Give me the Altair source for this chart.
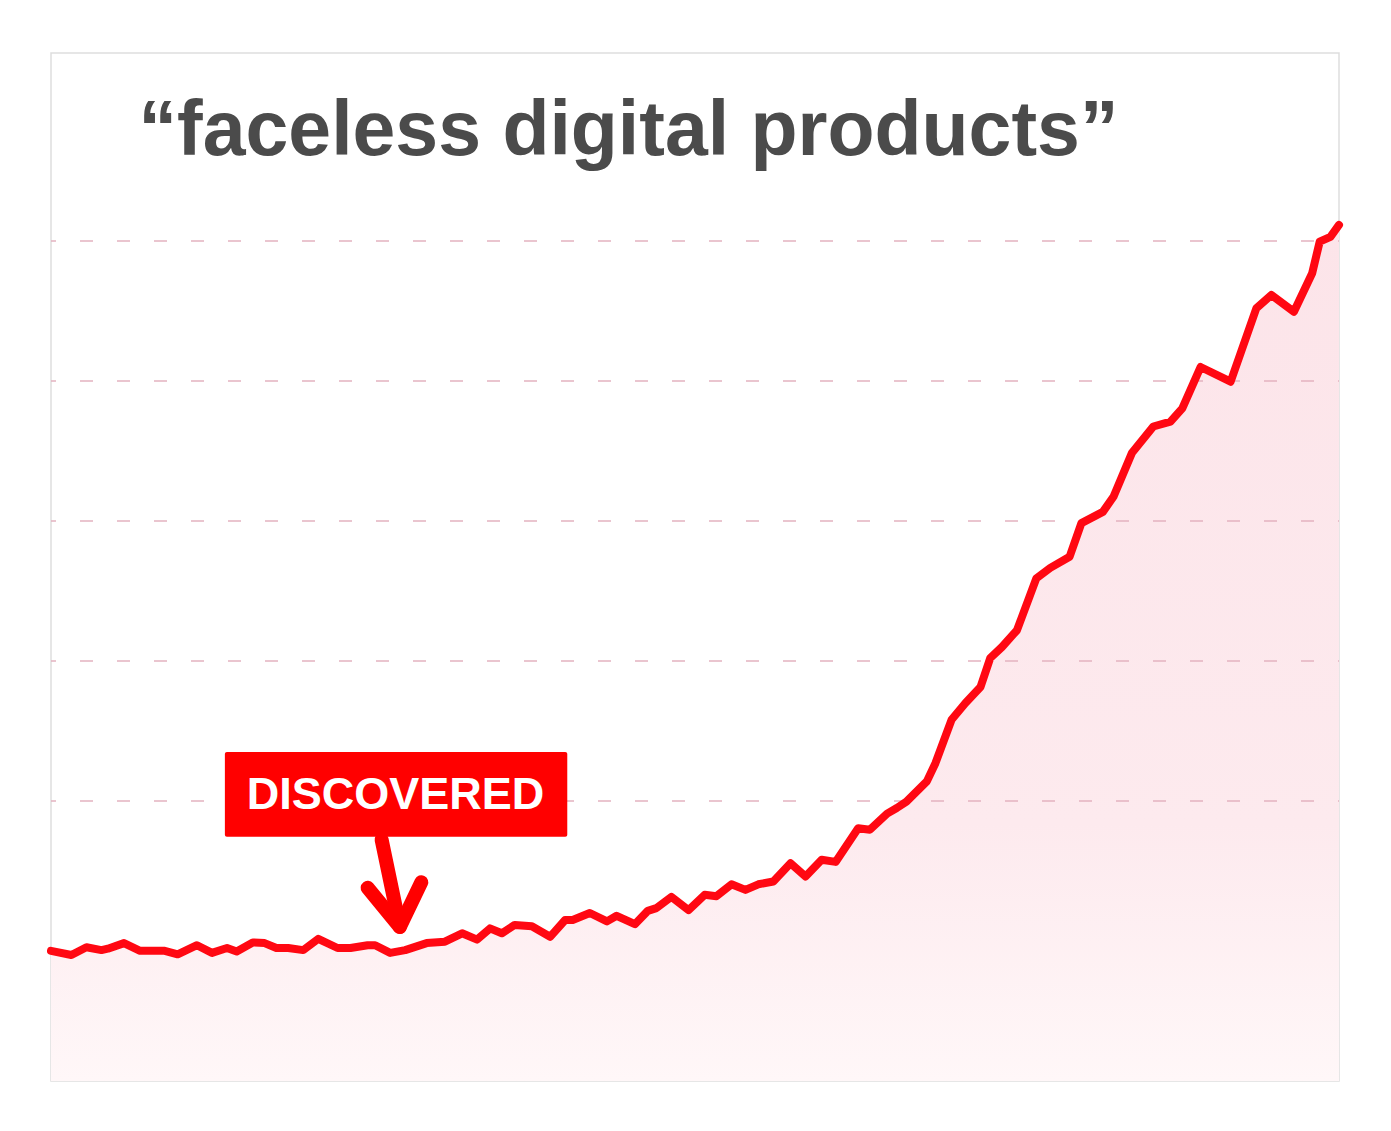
import altair as alt
import pandas as pd

# ---- series (time index, search interest) ----
t = [0.0, 1.9, 3.3, 4.7, 5.3, 6.8, 8.3, 10.6, 11.8, 13.6, 15.0, 16.4, 17.3, 18.8, 19.9,
     21.0, 22.1, 23.5, 24.9, 26.7, 27.9, 29.5, 30.2, 31.6, 33.0, 35.0, 36.7, 38.3, 39.7,
     40.9, 42.0, 43.2, 44.8, 46.5, 47.9, 48.6, 50.2, 51.8, 52.7, 54.4, 55.6, 56.4, 57.8,
     59.4, 60.9, 62.0, 63.4, 64.7, 65.9, 67.3, 68.9, 70.3, 71.8, 73.1, 75.2, 76.3, 77.9,
     78.8, 79.7, 81.6, 82.4, 83.9, 85.2, 86.6, 87.5, 88.6, 90.0, 91.8, 93.1, 94.9, 96.0,
     98.0, 99.0, 100.7, 102.7, 104.3, 105.4, 107.1, 109.9, 112.3, 113.7, 115.8, 117.5,
     118.2, 119.2, 120.0]
interest = [18.6, 18.0, 19.1, 18.7, 18.9, 19.7, 18.6, 18.6, 18.1, 19.4, 18.3, 19.0, 18.5,
            19.8, 19.7, 19.0, 19.0, 18.7, 20.3, 19.0, 19.0, 19.4, 19.4, 18.3, 18.7, 19.7,
            19.9, 21.1, 20.2, 21.8, 21.1, 22.3, 22.1, 20.6, 23.0, 23.0, 24.0, 22.8, 23.6,
            22.4, 24.3, 24.7, 26.3, 24.4, 26.6, 26.4, 28.1, 27.3, 28.1, 28.5, 31.1, 29.2,
            31.6, 31.3, 36.1, 35.9, 38.2, 39.0, 39.9, 42.8, 45.4, 51.6, 54.0, 56.3, 60.4,
            62.0, 64.4, 71.8, 73.3, 74.9, 79.7, 81.3, 83.5, 89.7, 93.5, 94.2, 96.1, 102.0,
            99.9, 110.4, 112.3, 109.9, 115.4, 119.9, 120.6, 122.3]

grid_values = [40, 60, 80, 100, 120]

title_text = ["\u201cfaceless digital products\u201d"]
label_text = ["DISCOVERED"]

# annotation anchors in data units
box_t = [16.2, 48.1]
box_v = [34.9, 47.0]
label_pos = [32.1, 40.9]
title_pos = [53.8, 132.3]
arrow_seg = ["shaft", "shaft", "head", "head", "head"]
arrow_order = [0, 1, 0, 1, 2]
arrow_t = [30.8, 32.5, 29.5, 32.5, 34.5]
arrow_v = [34.5, 22.0, 27.6, 22.0, 28.4]

X_DOMAIN = [0, 120]
Y_DOMAIN = [0, 146.86]

series = pd.DataFrame({"t": t, "v": interest})
grid = pd.DataFrame({"v": grid_values})
box = pd.DataFrame({"t": [box_t[0]], "t2": [box_t[1]], "v": [box_v[0]], "v2": [box_v[1]]})
label = pd.DataFrame({"t": [label_pos[0]], "v": [label_pos[1]], "text": label_text})
title = pd.DataFrame({"t": [title_pos[0]], "v": [title_pos[1]], "text": title_text})
arrow = pd.DataFrame({"seg": arrow_seg, "o": arrow_order, "t": arrow_t, "v": arrow_v})

xs = alt.Scale(domain=X_DOMAIN, nice=False, zero=False)
ys = alt.Scale(domain=Y_DOMAIN, nice=False, zero=False)
X = alt.X("t:Q", scale=xs, axis=None)
Y = alt.Y("v:Q", scale=ys, axis=None)

area = alt.Chart(series).mark_area(
    interpolate="linear",
    color=alt.Gradient(
        gradient="linear",
        stops=[alt.GradientStop(color="#fce4e9", offset=0),
               alt.GradientStop(color="#fdeaee", offset=0.7),
               alt.GradientStop(color="#fff7f8", offset=1)],
        x1=0, x2=0, y1=0, y2=1),
).encode(x=X, y=Y)

rules = alt.Chart(grid).mark_rule(
    color="#e3b2c0", strokeWidth=1.5, strokeDash=[13, 24], strokeDashOffset=12
).encode(y=Y)

line = alt.Chart(series).mark_line(
    color="#ff0812", strokeWidth=8, strokeJoin="round", strokeCap="round"
).encode(x=X, y=Y)

rect = alt.Chart(box).mark_rect(color="#ff0000", cornerRadius=2).encode(
    x=X, x2="t2:Q", y=Y, y2="v2:Q")

label_mark = alt.Chart(label).mark_text(
    font="Liberation Sans", fontWeight="bold", fontSize=45, color="#ffffff",
    align="center", baseline="middle"
).encode(x=X, y=Y, text="text:N")

arrow_mark = alt.Chart(arrow).mark_line(
    color="#ff0000", strokeWidth=14, strokeCap="round", strokeJoin="round"
).encode(x=X, y=Y, detail="seg:N", order="o:Q")

title_mark = alt.Chart(title).mark_text(
    font="Liberation Sans", fontWeight="bold", fontSize=77, color="#4b4b4b",
    align="center", baseline="alphabetic"
).encode(x=X, y=Y, text="text:N")

chart = alt.layer(area, rules, line, rect, label_mark, arrow_mark, title_mark).properties(
    width=1288, height=1028,
    autosize=alt.AutoSizeParams(type="none"),
    padding={"left": 51, "top": 53, "right": 52, "bottom": 50},
    background="#ffffff",
).configure_view(stroke="#dedede", strokeWidth=1.5)

chart.save("out.html", embed_options={"renderer": "svg", "actions": False})
